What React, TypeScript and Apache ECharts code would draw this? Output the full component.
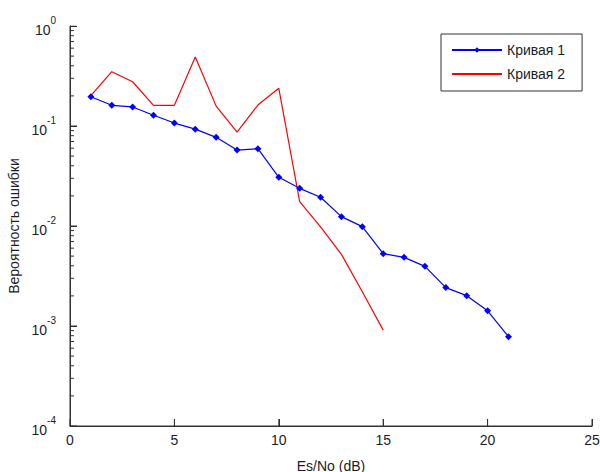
import React, { useEffect, useRef } from "react";
import * as echarts from "echarts";

// Es/No (dB) sample points
const snr1 = [1, 2, 3, 4, 5, 6, 7, 8, 9, 10, 11, 12, 13, 14, 15, 16, 17, 18, 19, 20, 21];
const curve1 = [
  0.196, 0.161, 0.155, 0.128, 0.107, 0.093, 0.077, 0.0575, 0.0593, 0.0307, 0.0238,
  0.0194, 0.0124, 0.00985, 0.00529, 0.00486, 0.00395, 0.00242, 0.00201, 0.00142, 0.000782,
];
const snr2 = [1, 2, 3, 4, 5, 6, 7, 8, 9, 10, 11, 12, 13, 14, 15];
const curve2 = [
  0.201, 0.349, 0.277, 0.161, 0.161, 0.49, 0.158, 0.087, 0.162, 0.238, 0.0175,
  0.0098, 0.0052, 0.0022, 0.00091,
];
const seriesNames = ["Кривая 1", "Кривая 2"];
const xTicks = [0, 5, 10, 15, 20, 25];
const yTicks = [1e-4, 1e-3, 1e-2, 1e-1, 1];
const minorMultipliers = [2, 3, 4, 5, 6, 7, 8, 9];

const FONT = 'Arial, "Liberation Sans", sans-serif';
const AXIS_COLOR = "#333333";
const TEXT_COLOR = "#1c1c2c";

// a plain two-point segment in data space, used for the axis frame and tick marks
function segment(a: number[], b: number[]) {
  return {
    type: "line",
    data: [a, b],
    symbol: "none",
    silent: true,
    animation: false,
    lineStyle: { color: AXIS_COLOR, width: 1 },
    itemStyle: { color: AXIS_COLOR },
    z: 4,
  };
}

export default function App() {
  const ref = useRef<HTMLDivElement>(null);

  useEffect(() => {
    if (!ref.current) return;
    const chart = echarts.init(ref.current, undefined, { renderer: "svg" });
    const xMin = xTicks[0];
    const xMax = xTicks[xTicks.length - 1];
    const yMin = yTicks[0];
    const yMax = yTicks[yTicks.length - 1];

    const curves = [
      {
        name: seriesNames[0],
        type: "line",
        data: snr1.map((x, i) => [x, curve1[i]]),
        color: "#0000ff",
        lineStyle: { width: 1.2, color: "#0000ff" },
        symbol: "diamond",
        symbolSize: 7,
        itemStyle: { color: "#0000ff" },
        z: 3,
      },
      {
        name: seriesNames[1],
        type: "line",
        data: snr2.map((x, i) => [x, curve2[i]]),
        color: "#ff0000",
        lineStyle: { width: 1.2, color: "#ff0000" },
        symbol: "none",
        showSymbol: false,
        z: 2,
      },
    ];

    chart.setOption({
      animation: false,
      grid: { left: 70, right: 8, top: 26, bottom: 46, outerBoundsMode: "none" },
      legend: {
        orient: "vertical",
        left: 441,
        top: 34,
        data: [{ name: seriesNames[0] }, { name: seriesNames[1], itemStyle: { opacity: 0 } }],
        itemWidth: 50,
        itemHeight: 7,
        itemGap: 10,
        padding: [9, 17, 10, 10],
        borderColor: "#333333",
        borderWidth: 1,
        backgroundColor: "#ffffff",
        textStyle: { fontFamily: FONT, fontSize: 14, color: TEXT_COLOR },
      },
      xAxis: {
        type: "value",
        min: xMin,
        max: xMax,
        interval: 5,
        name: "Es/No (dB)",
        nameLocation: "middle",
        nameGap: 33,
        nameTextStyle: { fontFamily: FONT, fontSize: 14, color: TEXT_COLOR },
        axisLine: { show: true, onZero: false, lineStyle: { color: AXIS_COLOR, width: 1 } },
        axisTick: { show: true, inside: true, length: 7, lineStyle: { color: AXIS_COLOR } },
        axisLabel: { fontFamily: FONT, fontSize: 14, color: TEXT_COLOR, margin: 7 },
        splitLine: { show: false },
      },
      yAxis: {
        type: "log",
        logBase: 10,
        min: yMin,
        max: yMax,
        name: "Вероятность ошибки",
        nameLocation: "middle",
        nameGap: 39,
        nameTextStyle: { fontFamily: FONT, fontSize: 14, color: TEXT_COLOR },
        axisLine: { show: true, onZero: false, lineStyle: { color: AXIS_COLOR, width: 1 } },
        axisTick: { show: true, inside: true, length: 7, lineStyle: { color: AXIS_COLOR } },
        axisLabel: {
          margin: 14,
          formatter: (v: number) => "{b|10}{s|" + Math.round(Math.log10(v)) + "}",
          rich: {
            b: { fontFamily: FONT, fontSize: 14, color: TEXT_COLOR, lineHeight: 22, verticalAlign: "bottom" },
            s: { fontFamily: FONT, fontSize: 10, color: TEXT_COLOR, lineHeight: 22, verticalAlign: "top" },
          },
        },
        splitLine: { show: false },
      },
      series: curves,
    });

    // axis frame and inward tick marks, drawn as data-space segments; tick lengths in pixels
    // are converted back to data units through the grid's own scales
    const finder = { gridIndex: 0 };
    const frame: any[] = [
      segment([xMin, yMin], [xMax, yMin]),
      segment([xMin, yMin], [xMin, yMax]),
    ];
    xTicks.forEach((t) => {
      const p = chart.convertToPixel(finder, [t, yMin]) as number[];
      const q = chart.convertFromPixel(finder, [p[0], p[1] - 7]) as number[];
      frame.push(segment([t, yMin], [t, q[1]]));
    });
    const yTick = (v: number, len: number) => {
      const p = chart.convertToPixel(finder, [xMin, v]) as number[];
      const q = chart.convertFromPixel(finder, [p[0] + len, p[1]]) as number[];
      frame.push(segment([xMin, v], [q[0], v]));
    };
    yTicks.forEach((v) => yTick(v, 7));
    yTicks.slice(0, -1).forEach((d) => minorMultipliers.forEach((m) => yTick(d * m, 4)));

    chart.setOption({ series: [...curves, ...frame] });

    return () => chart.dispose();
  }, []);

  return (
    <div style={{ position: "absolute", left: 0, top: 0 }}>
      <div ref={ref} style={{ width: 600, height: 472 }} />
    </div>
  );
}
